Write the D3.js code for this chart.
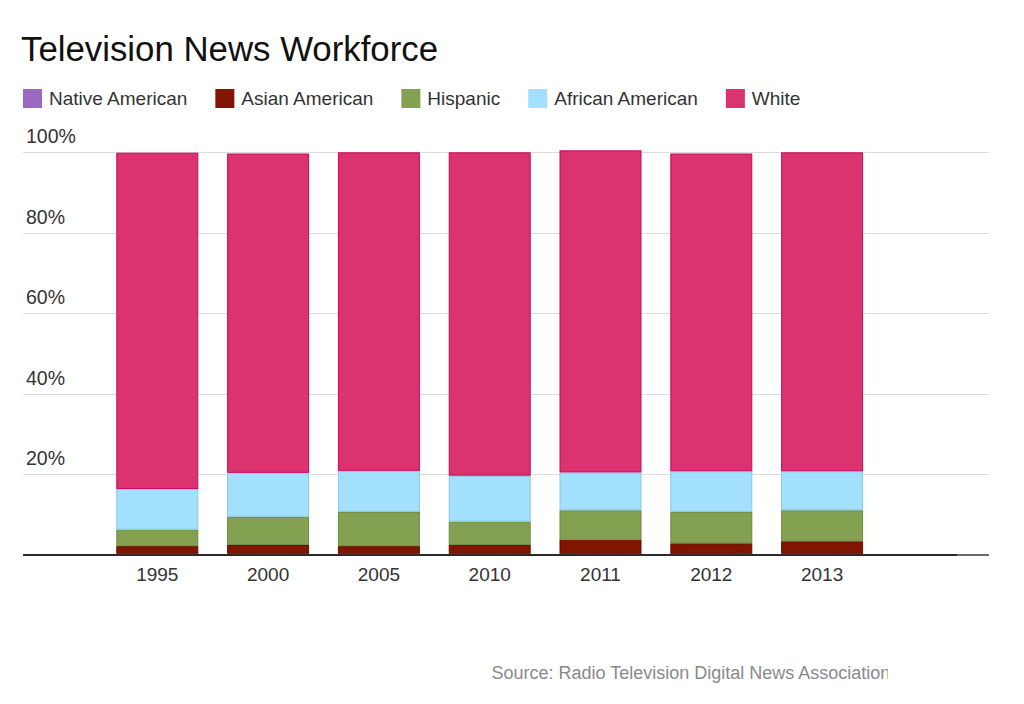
<!DOCTYPE html>
<html>
<head>
<meta charset="utf-8">
<script src="https://cdn.jsdelivr.net/npm/d3@7"></script>
<style>
  html, body { margin: 0; padding: 0; background: #fff; }
  svg { display: block; font-family: "Liberation Sans", Arial, Helvetica, sans-serif; }
</style>
</head>
<body>
<svg id="chart" width="1024" height="704"></svg>
<script>
// ---- data (percent of television news workforce) ----
const years = ["1995", "2000", "2005", "2010", "2011", "2012", "2013"];
const seriesNames = ["Native American", "Asian American", "Hispanic", "African American", "White"];
const nativeAmerican  = [0.3, 0.3, 0.3, 0.3, 0.3, 0.3, 0.3];
const asianAmerican   = [1.9, 2.2, 1.9, 2.2, 3.5, 2.6, 3.1];
const hispanic        = [4.1, 7.0, 8.5, 5.8, 7.3, 7.8, 7.7];
const africanAmerican = [10.1, 10.9, 10.2, 11.4, 9.4, 10.1, 9.7];
const white           = [83.5, 79.3, 79.1, 80.3, 80.0, 78.9, 79.2];
const yTicks = [20, 40, 60, 80, 100];
const yTickLabels = ["20%", "40%", "60%", "80%", "100%"];
const title = "Television News Workforce";
const source = "Source: Radio Television Digital News Association";

const fills   = ["#9b69c1", "#801600", "#84a151", "#a2e0fd", "#da3370"];
const strokes = ["#7d4fa5", "#5e0f00", "#6c8a3c", "#85c8e6", "#c40a5c"];

const table = years.map((yr, i) => ({
  year: yr,
  "Native American": nativeAmerican[i],
  "Asian American": asianAmerican[i],
  "Hispanic": hispanic[i],
  "African American": africanAmerican[i],
  "White": white[i]
}));

const svg = d3.select("#chart");

// ---- layout ----
const plotLeft = 23, plotRight = 989, axisEnd = 957;
const y = d3.scaleLinear().domain([0, 100]).range([555, 152.3]);
const x = d3.scaleBand().domain(years).range([101.9, 877.5]).paddingInner(0.26).paddingOuter(0.13);
const color = d3.scaleOrdinal().domain(seriesNames).range(fills);
const strokeColor = d3.scaleOrdinal().domain(seriesNames).range(strokes);

// title
svg.append("text").attr("x", 21).attr("y", 61)
  .attr("font-size", 34.8).attr("fill", "#111").attr("font-weight", 300)
  .text(title);

// legend
const legend = svg.append("g");
let lx = 23;
seriesNames.forEach(name => {
  const g = legend.append("g");
  g.append("rect").attr("x", lx).attr("y", 89).attr("width", 19).attr("height", 19)
    .attr("fill", color(name));
  const t = g.append("text").attr("x", lx + 26).attr("y", 105)
    .attr("font-size", 19).attr("fill", "#333").text(name);
  lx = lx + 26 + t.node().getComputedTextLength() + 28;
});

// gridlines + y labels
const grid = svg.append("g");
grid.selectAll("line").data(yTicks).join("line")
  .attr("x1", plotLeft).attr("x2", plotRight)
  .attr("y1", d => Math.round(y(d)) + 0.5).attr("y2", d => Math.round(y(d)) + 0.5)
  .attr("stroke", "#dcdcdc").attr("stroke-width", 1);
grid.selectAll("text").data(yTicks).join("text")
  .attr("x", 26).attr("y", d => y(d) - 9)
  .attr("font-size", 19.5).attr("fill", "#333")
  .text((d, i) => yTickLabels[i]);

// stacked bars
const stack = d3.stack().keys(seriesNames);
const layers = stack(table);
svg.append("g").selectAll("g").data(layers).join("g")
  .attr("fill", d => color(d.key))
  .attr("stroke", d => strokeColor(d.key))
  .attr("stroke-width", 1)
  .selectAll("rect").data(d => d).join("rect")
  .attr("x", d => x(d.data.year) + 0.5)
  .attr("width", x.bandwidth() - 1)
  .attr("y", d => y(d[1]) + 0.5)
  .attr("height", d => Math.max(0, y(d[0]) - y(d[1]) - 1));

// baseline axis
svg.append("line").attr("x1", plotLeft).attr("x2", axisEnd)
  .attr("y1", y(0)).attr("y2", y(0)).attr("stroke", "#2a2a2a").attr("stroke-width", 2);
svg.append("line").attr("x1", axisEnd).attr("x2", plotRight)
  .attr("y1", y(0)).attr("y2", y(0)).attr("stroke", "#6a6a6a").attr("stroke-width", 2);

// x labels
const xAxis = d3.axisBottom(x).tickSize(0).tickPadding(0);
const xg = svg.append("g").attr("transform", `translate(0, ${y(0)})`).call(xAxis);
xg.select(".domain").remove();
xg.selectAll("text").attr("dy", null).attr("y", 26)
  .attr("font-size", 19).attr("fill", "#333")
  .attr("font-family", "'Liberation Sans', Arial, Helvetica, sans-serif");

// source (clipped at right edge as in the original)
svg.append("clipPath").attr("id", "srcClip").append("rect")
  .attr("x", 0).attr("y", 640).attr("width", 888).attr("height", 60);
svg.append("text").attr("x", 491.5).attr("y", 679)
  .attr("clip-path", "url(#srcClip)")
  .attr("font-size", 18).attr("fill", "#8a8a8a").text(source);
</script>
</body>
</html>
